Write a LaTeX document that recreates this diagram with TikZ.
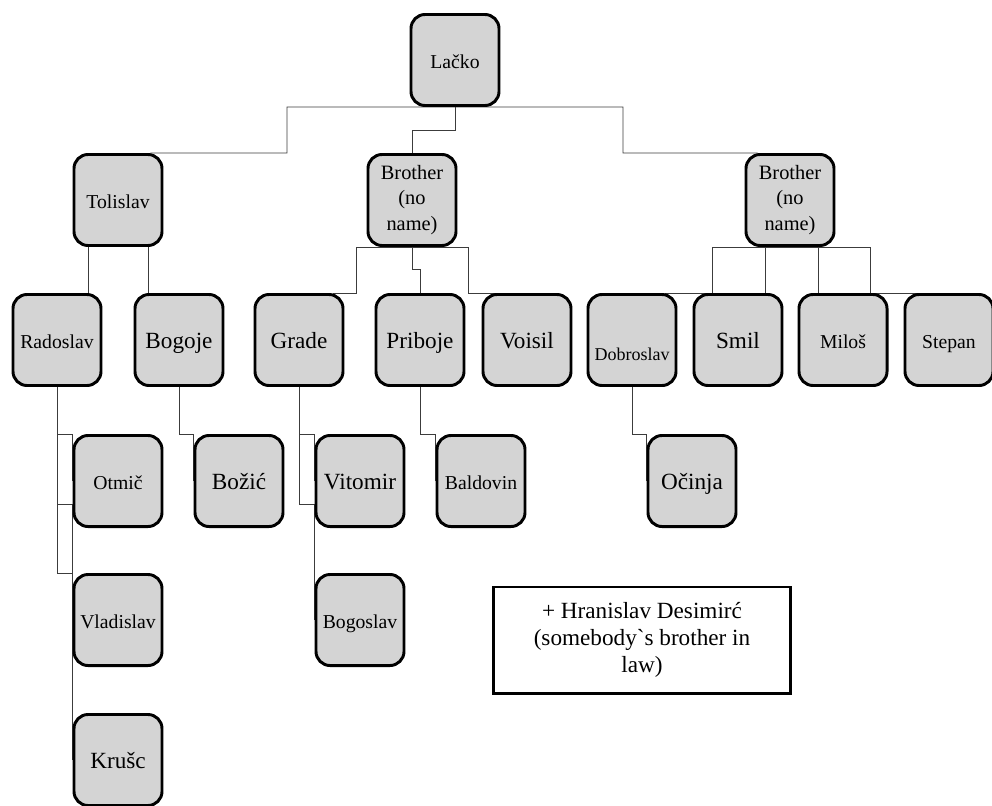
\documentclass[tikz,border=0pt]{standalone}
\usepackage{fontspec}
\setmainfont{Liberation Serif}
\usepackage{xcolor}
\usetikzlibrary{
    arrows.meta,
    shapes,
    positioning,
    backgrounds,
    calc
}
\definecolor{boxgray}{RGB}{212,212,212}
\definecolor{linkgray}{RGB}{60,60,60}
\tikzset{
    namebox/.style={draw, line width=2.1pt, rounded corners=10pt, fill=boxgray,
        minimum width=2.2cm, minimum height=2.275cm, inner sep=1pt, align=center,
        font=\fontsize{14}{17}\selectfont},
    person/.style={namebox, text height=11.5pt, text depth=0pt},
    smallname/.style={font=\fontsize{14}{17}\selectfont},
    bigname/.style={font=\fontsize{16.5}{19}\selectfont},
    brother/.style={namebox, font=\fontsize{14.5}{18}\selectfont},
    note/.style={draw, line width=2.1pt, minimum width=7.425cm, minimum height=2.65cm,
        align=center, font=\fontsize{16.5}{19.2}\selectfont},
    link/.style={draw=linkgray, line width=0.6pt}
}

\begin{document}
\begin{tikzpicture}[x=0.025cm, y=-0.025cm]
                \useasboundingbox (0,0) rectangle (992,805);
                % top and first generation
                \node[person] (lacko) at (455,60) {Lačko};
                \node[person] (tol) at (118,200) {Tolislav};
                \node[brother] (broA) at (412,200) {Brother\\(no\\name)};
                \node[brother] (broB) at (790,200) {Brother\\(no\\name)};
                % second row
                \foreach \id/\x/\fnt/\txt in {rado/57/smallname/Radoslav, bog/179/bigname/Bogoje,
                    grade/299/bigname/Grade, pri/420/bigname/Priboje, voi/527/bigname/Voisil,
                    smil/738/bigname/Smil, mil/843/smallname/Miloš, stepan/949/smallname/Stepan}{
                    \node[person, \fnt] (\id) at (\x,340) {\txt};
                }
                \node[person, font=\fontsize{12.8}{15}\selectfont] (dob) at (632,340)
                    {\raisebox{-9pt}[\height][\depth]{Dobroslav}};
                % third row
                \foreach \id/\x/\fnt/\txt in {otm/118/smallname/Otmič, boz/239/bigname/Božić,
                    vit/360/bigname/Vitomir, bal/481/smallname/Baldovin, oci/692/bigname/Očinja}{
                    \node[person, \fnt] (\id) at (\x,481) {\txt};
                }
                \node[person] (vla) at (118,620) {Vladislav};
                \node[person] (bgs) at (360,620) {Bogoslav};
                \node[person, bigname] (kru) at (118,760) {Krušc};
                \node[note] (hrani) at (642,640)
                    {+ Hranislav Desimirć\\(somebody\textasciigrave s brother in\\law)};

                \begin{scope}[on background layer]
                    \path (tol.south) ++(-30,0) coordinate (tolL) ++(60,0) coordinate (tolR);
                    \draw[link] (lacko.south) -| (287,153) -- ($(tol.north east)+(-13,0)$);
                    \draw[link] (lacko.south) -- ++(0,23) -| (broA.north);
                    \draw[link] (lacko.south) -| (623,153) -- ($(broB.north west)+(13,0)$);
                    \draw[link] (tolL) -- (tolL |- rado.north);
                    \draw[link] (tolR) -- (tolR |- bog.north);
                    \draw[link] (broA.south) -| ($(grade.north east)+(12,0)$) -- ($(grade.north east)+(-11,0)$);
                    \draw[link] (broA.south) -- ++(0,22) -| (pri.north);
                    \draw[link] (broA.south) -| ($(voi.north west)+(-13,0)$) -- ($(voi.north west)+(13,0)$);
                    \draw[link] (broB.south) -- ++(-78,0) |- ($(dob.north east)+(-12,0)$);
                    \draw[link] (broB.south) -- ++(-25,0) |- (smil.north);
                    \draw[link] (broB.south) -- ++(28,0) |- (mil.north);
                    \draw[link] (broB.south) -- ++(80,0) |- ($(stepan.north west)+(13,0)$);
                    \draw[link] (rado.south) |- (otm.north west) -- (otm.west);
                    \draw[link] (rado.south) |- ($(otm.south west)+(0,-24)$) -- (vla.west);
                    \draw[link] (rado.south) |- (vla.north west) -- (kru.west);
                    \draw[link] (bog.south) |- (boz.north west) -- (boz.west);
                    \draw[link] (grade.south) |- (vit.north west) -- (vit.west);
                    \draw[link] (grade.south) |- ($(vit.south west)+(0,-24)$) -- (bgs.west);
                    \draw[link] (pri.south) |- (bal.north west) -- (bal.west);
                    \draw[link] (dob.south) |- (oci.north west) -- (oci.west);
                \end{scope}
            \end{tikzpicture}
\end{document}
